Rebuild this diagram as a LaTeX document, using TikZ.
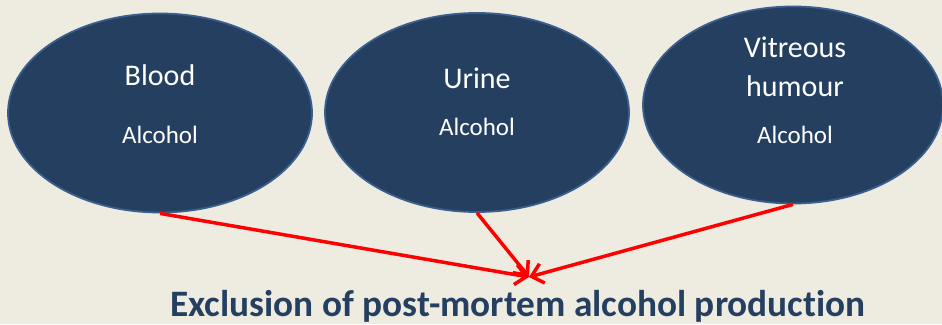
\documentclass[tikz,border=0pt]{standalone}
\usepackage{fontspec}
\setmainfont{Carlito}[Ligatures=NoCommon]
\usepackage{tikz}
\usetikzlibrary{shapes,arrows.meta,positioning}
\usepackage{xcolor}
\definecolor{bgtan}{HTML}{EEECE1}
\definecolor{ovalblue}{HTML}{243F60}
\definecolor{ovaledge}{HTML}{3A5F8E}
\definecolor{titleblue}{HTML}{243F60}

\begin{document}
\begin{tikzpicture}[x=1pt, y=-1pt,
    sample/.style={ellipse, draw=ovaledge, line width=1.8pt, fill=ovalblue, minimum width=304pt, minimum height=199pt, inner sep=0pt},
    big/.style={anchor=base, text=white, font=\fontsize{30}{36}\selectfont},
    small/.style={anchor=base, text=white, font=\fontsize{25}{30}\selectfont},
    link/.style={draw=red, line width=3.5pt, -{Straight Barb[length=11pt,width=20pt]}}
]
    \fill[bgtan] (0,0) rectangle (942,324);
    \useasboundingbox (0,0) rectangle (942,324);

    % Ellipses
    \node[sample] (blood) at (160,113) {};
    \node[sample] (urine) at (477,112.5) {};
    \node[sample, minimum width=300pt, minimum height=197pt] (vitreous) at (793,105) {};

    % Labels
    \node[big] (bloodname) at (160,85) {Blood};
    \node[small] (bloodalc) at (160,143) {Alcohol};
    \node[big] (urinename) at (477,88) {Urine};
    \node[small] (urinealc) at (477,135) {Alcohol};
    \node[big] (vitname) at (795,57) {Vitreous};
    \node[big] (vitname2) at (795,96) {humour};
    \node[small] (vitalc) at (795,143) {Alcohol};

    % Result
    \node[anchor=base, text=titleblue, font=\fontsize{37.3}{44}\selectfont\bfseries] (result) at (518,316) {Exclusion of post-mortem alcohol production};
    \coordinate (meet) at (529,277);

    \draw[link] (blood.south) -- (meet);
    \draw[link] (urine.south) -- (meet);
    \draw[link] (vitreous.south) -- (meet);
\end{tikzpicture}
\end{document}
